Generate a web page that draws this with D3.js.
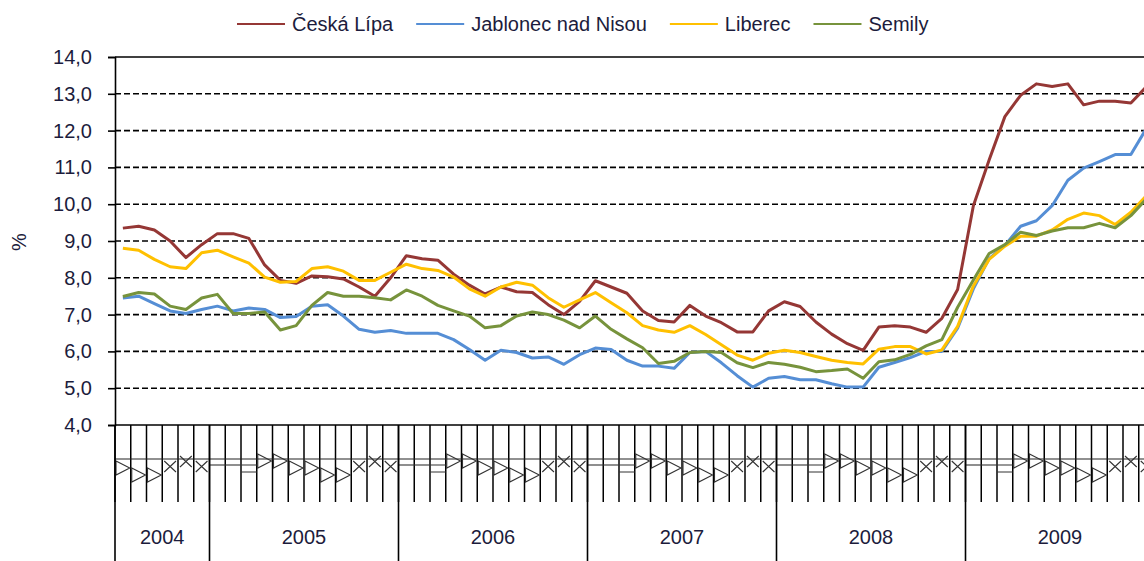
<!DOCTYPE html>
<html>
<head>
<meta charset="utf-8">
<script src="https://cdn.jsdelivr.net/npm/d3@7/dist/d3.min.js"></script>
<style>
    body { margin: 0; background: #fff; }
    svg { display: block; font-family: "Liberation Sans", Arial, sans-serif; }
</style>
</head>
<body>
<svg id="chart" width="1144" height="561"></svg>
<script>
// roky a pocet mesicu v kazdem roce (od cervence 2004)
var years = [2004, 2005, 2006, 2007, 2008, 2009];
var monthsInYear = [6, 12, 12, 12, 12, 12];
var firstMonth = [7, 1, 1, 1, 1, 1];

var seriesNames = ["Česká Lípa", "Jablonec nad Nisou", "Liberec", "Semily"];
var seriesColors = ["#953735", "#558ed5", "#ffc000", "#77933c"];

var ceskaLipa = [9.35, 9.4, 9.3, 9.0, 8.55, 8.9, 9.2, 9.2, 9.07, 8.35, 7.93, 7.85,
    8.05, 8.03, 7.97, 7.75, 7.5, 8.0, 8.6, 8.52, 8.48, 8.1, 7.8, 7.56,
    7.75, 7.62, 7.6, 7.27, 7.0, 7.36, 7.92, 7.75, 7.58, 7.1, 6.84, 6.8,
    7.25, 6.96, 6.78, 6.53, 6.53, 7.1, 7.35, 7.22, 6.8, 6.47, 6.21, 6.03,
    6.66, 6.7, 6.66, 6.52, 6.9, 7.68, 9.96, 11.2, 12.38, 12.96, 13.27, 13.2,
    13.27, 12.7, 12.8, 12.8, 12.75, 13.2];
var jablonec = [7.45, 7.5, 7.3, 7.1, 7.03, 7.14, 7.23, 7.1, 7.18, 7.14, 6.92, 6.95,
    7.23, 7.27, 6.96, 6.6, 6.52, 6.57, 6.49, 6.49, 6.49, 6.32, 6.05, 5.76,
    6.03, 5.97, 5.82, 5.85, 5.65, 5.91, 6.09, 6.05, 5.76, 5.6, 5.6, 5.54,
    5.97, 6.0, 5.69, 5.34, 5.03, 5.27, 5.32, 5.23, 5.23, 5.12, 5.03, 5.03,
    5.57, 5.7, 5.83, 6.0, 6.0, 6.63, 7.7, 8.52, 8.88, 9.4, 9.55, 9.96,
    10.65, 10.98, 11.16, 11.35, 11.35, 12.07];
var liberec = [8.8, 8.75, 8.5, 8.3, 8.25, 8.68, 8.75, 8.57, 8.4, 8.02, 7.88, 7.9,
    8.25, 8.3, 8.18, 7.93, 7.93, 8.15, 8.37, 8.25, 8.2, 8.02, 7.7, 7.5,
    7.75, 7.88, 7.8, 7.46, 7.2, 7.4, 7.6, 7.32, 7.05, 6.7, 6.58, 6.52,
    6.7, 6.46, 6.18, 5.9, 5.76, 5.95, 6.03, 5.97, 5.86, 5.76, 5.7, 5.66,
    6.06, 6.13, 6.13, 5.93, 6.04, 6.68, 7.78, 8.5, 8.86, 9.13, 9.13, 9.3,
    9.59, 9.76, 9.69, 9.45, 9.78, 10.24];
var semily = [7.49, 7.6, 7.56, 7.23, 7.14, 7.45, 7.55, 7.03, 7.03, 7.07, 6.58, 6.7,
    7.25, 7.6, 7.5, 7.5, 7.46, 7.4, 7.67, 7.5, 7.25, 7.1, 6.96, 6.64,
    6.7, 6.96, 7.07, 7.0, 6.85, 6.64, 6.96, 6.6, 6.34, 6.1, 5.67, 5.73,
    5.97, 6.0, 5.97, 5.69, 5.56, 5.7, 5.65, 5.57, 5.45, 5.48, 5.52, 5.27,
    5.72, 5.77, 5.92, 6.15, 6.32, 7.2, 7.94, 8.66, 8.9, 9.24, 9.15, 9.27,
    9.36, 9.36, 9.48, 9.36, 9.69, 10.15];

var yTicks = [4, 5, 6, 7, 8, 9, 10, 11, 12, 13, 14];

var allSeries = [ceskaLipa, jablonec, liberec, semily];

// seznam mesicu
var months = [];
years.forEach(function (yr, k) {
    for (var m = 0; m < monthsInYear[k]; m++) {
        months.push({year: yr, month: firstMonth[k] + m});
    }
});

var svg = d3.select("#chart");
var textColor = "#1c1c3c";

var plotLeft = 115, plotTop = 57, plotBottom = 425, step = 15.75;
var x = d3.scaleLinear().domain([0, months.length]).range([plotLeft, plotLeft + months.length * step]);
var y = d3.scaleLinear().domain([4, 14]).range([plotBottom, plotTop]);
var plotRight = x(months.length);

// mrizka
svg.append("g").selectAll("line")
    .data(yTicks.filter(function (d) { return d > 4 && d < 14; }))
    .enter().append("line")
    .attr("x1", plotLeft).attr("x2", plotRight)
    .attr("y1", function (d) { return y(d); }).attr("y2", function (d) { return y(d); })
    .attr("stroke", "#000").attr("stroke-width", 1.6).attr("stroke-dasharray", "6,3");

// horni okraj
svg.append("line").attr("x1", plotLeft).attr("x2", plotRight).attr("y1", y(14)).attr("y2", y(14))
    .attr("stroke", "#000").attr("stroke-width", 1.6);

// osa y
var yAxis = svg.append("g").attr("transform", "translate(" + plotLeft + ",0)")
    .call(d3.axisLeft(y).tickValues(yTicks).tickSize(7).tickPadding(16)
        .tickFormat(function (d) { return d.toFixed(1).replace(".", ","); }));
yAxis.select(".domain").attr("stroke", "#000").attr("stroke-width", 1.6);
yAxis.selectAll(".tick line").attr("stroke", "#000").attr("stroke-width", 1.6);
yAxis.selectAll(".tick text").attr("font-size", 20).attr("fill", textColor)
    .attr("font-family", "Liberation Sans, Arial, sans-serif");

svg.append("text").attr("transform", "translate(26,242) rotate(-90)")
    .attr("text-anchor", "middle").attr("font-size", 20).attr("fill", textColor).text("%");

// osa x
svg.append("line").attr("x1", plotLeft).attr("x2", plotRight).attr("y1", plotBottom).attr("y2", plotBottom)
    .attr("stroke", "#000").attr("stroke-width", 1.6);

svg.append("g").selectAll("line")
    .data(d3.range(months.length + 1))
    .enter().append("line")
    .attr("x1", function (d) { return x(d); }).attr("x2", function (d) { return x(d); })
    .attr("y1", plotBottom).attr("y2", 502)
    .attr("stroke", "#000").attr("stroke-width", 1.5);

// rozhazene popisky mesicu
svg.append("line").attr("x1", plotLeft).attr("x2", plotRight).attr("y1", 459).attr("y2", 459)
    .attr("stroke", "#222").attr("stroke-width", 1.2);

var glyph = function (m, xl, w) {
    var p = d3.path();
    if (m <= 2) {
        p.moveTo(xl, 465); p.lineTo(xl + w, 465);
    } else if (m === 3) {
        p.moveTo(xl, 465); p.lineTo(xl + w, 465);
        p.moveTo(xl, 472); p.lineTo(xl + w, 472);
    } else if (m <= 9) {
        var t = m <= 5 ? 454 : (m <= 7 ? 461 : 468);
        p.moveTo(xl + 1, t); p.lineTo(xl + w - 1, t + 7); p.lineTo(xl + 1, t + 14); p.closePath();
    } else {
        var t2 = m % 2 ? 456 : 461;
        p.moveTo(xl + 2, t2); p.lineTo(xl + w - 2, t2 + 11);
        p.moveTo(xl + w - 2, t2); p.lineTo(xl + 2, t2 + 11);
    }
    return p.toString();
};

svg.append("g").selectAll("path")
    .data(months)
    .enter().append("path")
    .attr("d", function (d, i) { return glyph(d.month, x(i), step); })
    .attr("fill", "none").attr("stroke", "#333").attr("stroke-width", 1.1);

// hranice roku
var yearStart = [0];
monthsInYear.forEach(function (n, k) { yearStart.push(yearStart[k] + n); });

svg.append("g").selectAll("line")
    .data(yearStart)
    .enter().append("line")
    .attr("x1", function (d) { return x(d); }).attr("x2", function (d) { return x(d); })
    .attr("y1", plotBottom).attr("y2", 561)
    .attr("stroke", "#000").attr("stroke-width", 1.6);

svg.append("g").selectAll("text")
    .data(years)
    .enter().append("text")
    .attr("x", function (d, k) { return (x(yearStart[k]) + x(yearStart[k + 1])) / 2; })
    .attr("y", 544)
    .attr("text-anchor", "middle").attr("font-size", 20).attr("fill", textColor)
    .text(function (d) { return d; });

// krivky
var line = d3.line()
    .x(function (d, i) { return x(i + 0.5); })
    .y(function (d) { return y(d); });

svg.append("g").selectAll("path")
    .data(allSeries)
    .enter().append("path")
    .attr("d", line)
    .attr("fill", "none")
    .attr("stroke", function (d, i) { return seriesColors[i]; })
    .attr("stroke-width", 3)
    .attr("stroke-linejoin", "round");

// legenda
var lx = 237;
seriesNames.forEach(function (name, i) {
    svg.append("line").attr("x1", lx).attr("x2", lx + 48).attr("y1", 24).attr("y2", 24)
        .attr("stroke", seriesColors[i]).attr("stroke-width", 2);
    var t = svg.append("text").attr("x", lx + 55).attr("y", 31)
        .attr("font-size", 20).attr("fill", textColor).text(name);
    lx = lx + 55 + t.node().getComputedTextLength() + 23;
});
</script>
</body>
</html>
